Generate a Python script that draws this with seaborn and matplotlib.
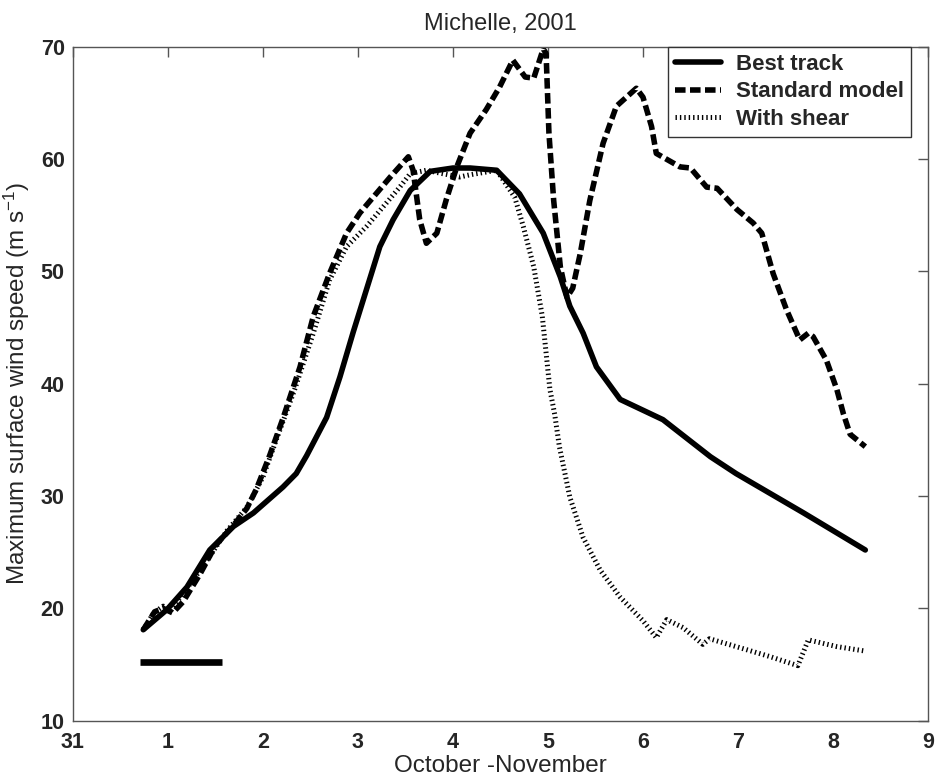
import matplotlib
matplotlib.use("Agg")
import matplotlib.pyplot as plt
import seaborn as sns
import numpy as np

# Day axis: 0 = 31 October, then days of November
day_ticks = [0, 1, 2, 3, 4, 5, 6, 7, 8, 9]
day_labels = ["31", "1", "2", "3", "4", "5", "6", "7", "8", "9"]
speed_ticks = [10, 20, 30, 40, 50, 60, 70]

best_x = [0.74, 0.99, 1.20, 1.44, 1.69, 1.90, 2.21, 2.35, 2.46, 2.67, 2.81, 2.95,
          3.09, 3.23, 3.37, 3.55, 3.76, 4.00, 4.18, 4.46, 4.70, 4.95, 5.13, 5.23,
          5.37, 5.51, 5.76, 6.21, 6.71, 6.98, 7.69, 8.34]
best_y = [18.1, 19.9, 21.9, 25.2, 27.3, 28.5, 30.8, 32.0, 33.6, 37.0, 40.6, 44.6,
          48.4, 52.2, 54.6, 57.2, 58.9, 59.2, 59.2, 59.0, 56.9, 53.4, 49.5, 46.9,
          44.5, 41.5, 38.6, 36.8, 33.5, 32.0, 28.5, 25.2]

std_x = [0.74, 0.86, 0.95, 1.05, 1.16, 1.34, 1.50, 1.69, 1.83, 1.93, 2.07, 2.21,
         2.39, 2.53, 2.70, 2.88, 3.02, 3.16, 3.34, 3.53, 3.58, 3.65, 3.72, 3.83,
         3.93, 4.04, 4.18, 4.35, 4.49, 4.63, 4.76, 4.85, 4.95, 4.98, 5.01, 5.06,
         5.13, 5.20, 5.26, 5.34, 5.44, 5.58, 5.72, 5.93, 6.00, 6.09, 6.14, 6.39,
         6.50, 6.67, 6.78, 6.99, 7.16, 7.25, 7.37, 7.51, 7.65, 7.74, 7.79, 7.93,
         8.04, 8.11, 8.18, 8.34]
std_y = [18.1, 19.7, 20.0, 19.6, 20.6, 23.1, 25.6, 27.4, 28.9, 30.6, 33.6, 36.9,
         41.5, 46.0, 49.8, 53.4, 55.2, 56.6, 58.4, 60.2, 59.0, 54.6, 52.5, 53.4,
         56.4, 59.3, 62.3, 64.4, 66.4, 68.8, 67.3, 67.2, 69.8, 69.4, 62.3, 56.3,
         50.4, 47.7, 48.5, 51.6, 56.3, 61.4, 64.7, 66.3, 65.5, 62.9, 60.5, 59.3,
         59.2, 57.5, 57.4, 55.5, 54.3, 53.4, 49.8, 46.6, 43.9, 44.5, 44.2, 42.1,
         39.5, 37.3, 35.5, 34.4]

shear_x = [0.74, 0.85, 0.95, 1.04, 1.13, 1.34, 1.62, 1.83, 2.00, 2.14, 2.33, 2.53,
           2.70, 2.88, 3.09, 3.27, 3.44, 3.55, 3.72, 3.89, 4.07, 4.18, 4.46, 4.65,
           4.74, 4.85, 4.94, 5.02, 5.07, 5.12, 5.23, 5.37, 5.55, 5.76, 6.00, 6.14,
           6.25, 6.42, 6.63, 6.70, 6.98, 7.34, 7.63, 7.74, 8.04, 8.34]
shear_y = [18.1, 19.6, 20.2, 19.9, 21.0, 23.4, 26.9, 29.0, 31.7, 35.0, 39.4, 44.5,
           49.2, 52.2, 54.0, 55.8, 57.5, 58.7, 59.0, 58.7, 58.4, 58.6, 59.0, 56.6,
           54.0, 50.4, 46.0, 39.5, 37.3, 34.4, 29.9, 26.3, 23.4, 21.0, 18.9, 17.4,
           19.0, 18.3, 16.8, 17.3, 16.6, 15.7, 14.9, 17.2, 16.6, 16.2]

# Horizontal bar marking a time span near the start of the storm
bar_x = [0.705, 1.565]
bar_y = [15.27, 15.27]

sns.set_style("white")
plt.rcParams["font.family"] = ["Liberation Sans", "DejaVu Sans"]
plt.rcParams["mathtext.fontset"] = "custom"
plt.rcParams["mathtext.rm"] = "Liberation Sans"
plt.rcParams["mathtext.default"] = "rm"

fig = plt.figure(figsize=(9.39, 7.78), dpi=100)
ax = fig.add_axes([0.0777, 0.0736, 0.9106, 0.8664])

sns.lineplot(x=best_x, y=best_y, ax=ax, color="black", linewidth=4.0,
             estimator=None, label="Best track")
sns.lineplot(x=std_x, y=std_y, ax=ax, color="black", linewidth=4.0,
             linestyle=(0, (1.9, 0.8)), estimator=None, label="Standard model")
sns.lineplot(x=shear_x, y=shear_y, ax=ax, color="black", linewidth=3.6,
             linestyle=(0, (0.28, 0.6)), estimator=None, label="With shear")
sns.lineplot(x=bar_x, y=bar_y, ax=ax, color="black", linewidth=4.8,
             estimator=None, legend=False, solid_capstyle="butt")

ax.set_xlim(0, 9)
ax.set_ylim(10, 70)
ax.set_xticks(day_ticks)
ax.set_xticklabels(day_labels)
ax.set_yticks(speed_ticks)

for side in ["left", "right", "top", "bottom"]:
    ax.spines[side].set_visible(True)
    ax.spines[side].set_color("#555555")
    ax.spines[side].set_linewidth(1.0)

ax.tick_params(axis="both", which="both", direction="in", length=7, width=1.0,
               color="#555555", top=True, right=True, labelsize=15.5)
ax.tick_params(axis="x", pad=8)
ax.tick_params(axis="y", pad=6)
for lab in ax.get_xticklabels() + ax.get_yticklabels():
    lab.set_fontweight("bold")

ax.set_title("Michelle, 2001", fontsize=17, pad=12)
ax.set_xlabel("October -November", fontsize=17.5, va="baseline")
ax.set_ylabel("Maximum surface wind speed (m s$^{-1}$)", fontsize=17.5)
ax.xaxis.set_label_coords(0.5, -0.0755)
ax.yaxis.set_label_coords(-0.048, 0.5)

leg = ax.legend(loc="upper right", bbox_to_anchor=(0.980, 1.0), borderaxespad=0,
                frameon=True, fancybox=False, framealpha=1, edgecolor="#333333",
                prop={"weight": "bold", "size": 16}, handlelength=2.1,
                handletextpad=0.65, labelspacing=0.3, borderpad=0.32)
leg.get_frame().set_linewidth(1.0)

fig.savefig("out.png", dpi=100)
